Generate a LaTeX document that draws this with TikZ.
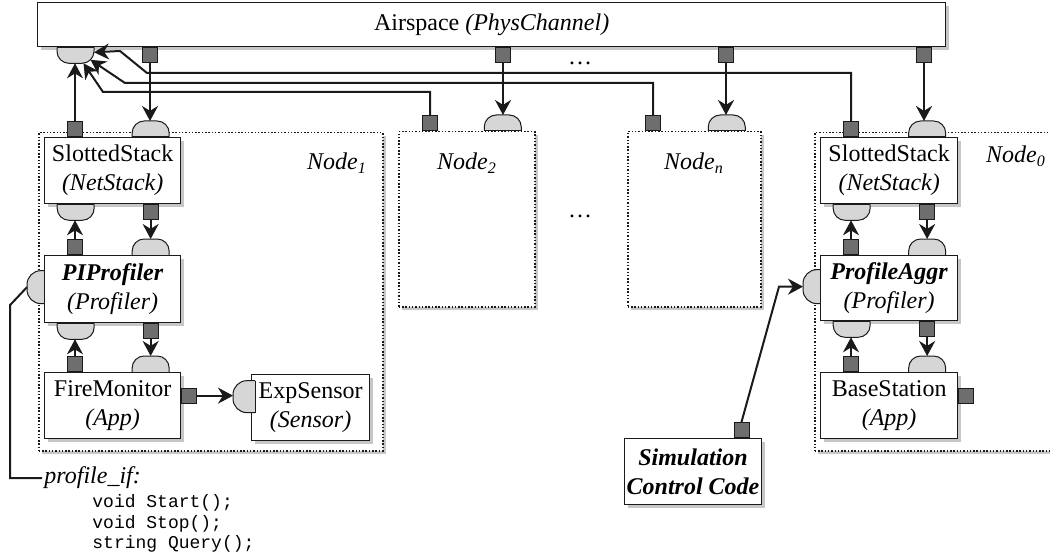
\documentclass[tikz,border=0pt]{standalone}
\usepackage{fontspec}
\setmainfont{Liberation Serif}
\setmonofont{Liberation Mono}
\usetikzlibrary{arrows.meta,positioning,shadows,calc}
\definecolor{Ink}{HTML}{1A1A1A}
\definecolor{PortIn}{HTML}{D6D6D6}
\definecolor{PortOut}{HTML}{6E6E6E}
\tikzset{
 softshadow/.style={drop shadow={shadow xshift=1.6pt,shadow yshift=-1.6pt,opacity=0.22,fill=black}},
 comp/.style={draw=Ink,fill=white,line width=0.65pt,anchor=north west,align=center,
   font=\fontsize{12}{14.5}\selectfont,inner sep=1pt,minimum width=68pt,minimum height=33pt,softshadow},
 nodebox/.style={draw=Ink,fill=white,line width=0.75pt,dash pattern=on 0.75pt off 0.9pt,
   anchor=north west,softshadow},
 lbl/.style={font=\fontsize{12}{14.5}\selectfont\itshape},
 oport/.style={draw=Ink,fill=PortOut,line width=0.5pt,minimum size=7.5pt,inner sep=0pt},
 portfill/.style={fill=PortIn,draw=Ink,line width=0.5pt,rounded corners=6pt},
 portedge/.style={draw=Ink,line width=0.5pt},
 iport/.style={minimum width=18.5pt,minimum height=8pt,inner sep=0pt,outer sep=0pt},
 domeup/.style={iport,append after command={\pgfextra{\filldraw[portfill]
   (\tikzlastnode.south west) -- (\tikzlastnode.north west) -- (\tikzlastnode.north east) -- (\tikzlastnode.south east);
   \draw[portedge] (\tikzlastnode.south west) -- (\tikzlastnode.south east);}}},
 domedown/.style={iport,append after command={\pgfextra{\filldraw[portfill]
   (\tikzlastnode.north west) -- (\tikzlastnode.south west) -- (\tikzlastnode.south east) -- (\tikzlastnode.north east);
   \draw[portedge] (\tikzlastnode.north west) -- (\tikzlastnode.north east);}}},
 domeleft/.style={minimum width=8.5pt,minimum height=16.5pt,inner sep=0pt,outer sep=0pt,
   append after command={\pgfextra{\filldraw[portfill,rounded corners=7pt]
   (\tikzlastnode.north east) -- (\tikzlastnode.north west) -- (\tikzlastnode.south west) -- (\tikzlastnode.south east);
   \draw[portedge] (\tikzlastnode.north east) -- (\tikzlastnode.south east);}}},
 wire/.style={line width=1pt,draw=Ink},
 arr/.style={wire,-{Stealth[length=7.5pt,width=8pt]}}
}
\begin{document}
\begin{tikzpicture}[x=0.5pt,y=-0.5pt]
\useasboundingbox (0,0) rectangle (1050,556);
% channel
\node[comp,minimum width=454pt,minimum height=22pt] (air) at (37,2) {Airspace \textit{(PhysChannel)}};
\node[domedown,below right=0pt and 10pt of air.south west] (asin) {};
\node[oport,below right=0pt and 52.5pt of air.south west] (aso1) {};
\node[oport,below right=0pt and 229pt of air.south west] (aso2) {};
\node[oport,below right=0pt and 340.5pt of air.south west] (aso3) {};
\node[oport,below right=0pt and 439.5pt of air.south west] (aso0) {};
\node[font=\fontsize{12}{14}\selectfont] (dots1) at (580,63) {\dots};
% sensor nodes
\node[nodebox,minimum width=172pt,minimum height=159pt] (g1) at (38,132) {};
\node[nodebox,minimum width=68pt,minimum height=87.5pt] (g2) at (398,131) {};
\node[nodebox,minimum width=66.5pt,minimum height=87.5pt] (gn) at (627,131) {};
\node[nodebox,minimum width=120pt,minimum height=159pt] (g0) at (814,132) {};
\node[lbl] (g1l) at (337,163) {Node\textsubscript{1}};
\node[lbl] (g2l) at (467,163) {Node\textsubscript{2}};
\node[lbl] (gnl) at (694,163) {Node\textsubscript{n}};
\node[lbl] (g0l) at (1016,156) {Node\textsubscript{0}};
\node[font=\fontsize{12}{14}\selectfont] (dots2) at (580,216) {\dots};
\node[oport,above right=0pt and 12pt of g2.north west] (n2o) {};
\node[domeup,above=0pt of g2.north,xshift=18pt] (n2i) {};
\node[oport,above right=0pt and 9pt of gn.north west] (nno) {};
\node[domeup,above=0pt of gn.north,xshift=16.25pt] (nni) {};
% node 1
\node[comp] (s1) at (44,137) {SlottedStack\\\textit{(NetStack)}};
\node[comp,minimum height=33.5pt] (p1) at (44,255) {\textbf{\textit{PIProfiler}}\\\textit{(Profiler)}};
\node[comp] (f1) at (44,372) {FireMonitor\\\textit{(App)}};
\node[comp,minimum width=59pt] (e1) at (251,374) {ExpSensor\\\textit{(Sensor)}};
\node[oport,above right=0pt and 11.5pt of s1.north west] (s1o) {};
\node[domeup,above=0pt of s1.north,xshift=19pt] (s1i) {};
\node[domedown,below=0pt of s1.south,xshift=-18.5pt] (s1bi) {};
\node[oport,below=0pt of s1.south,xshift=19pt] (s1bo) {};
\node[oport,above right=0pt and 11.5pt of p1.north west] (p1to) {};
\node[domeup,above=0pt of p1.north,xshift=19pt] (p1ti) {};
\node[domedown,below=0pt of p1.south,xshift=-18.5pt] (p1bi) {};
\node[oport,below=0pt of p1.south,xshift=19pt] (p1bo) {};
\node[domeleft,left=0pt of p1.west,yshift=1pt] (p1l) {};
\node[oport,above right=0pt and 11.5pt of f1.north west] (f1to) {};
\node[domeup,above=0pt of f1.north,xshift=19pt] (f1ti) {};
\node[oport,right=0pt of f1.east,yshift=5pt] (f1r) {};
\node[domeleft,minimum width=11pt,minimum height=16pt,left=0pt of e1.west,xshift=2pt,yshift=5.5pt] (e1l) {};
% node 0
\node[comp,minimum width=68.5pt] (s0) at (820,137) {SlottedStack\\\textit{(NetStack)}};
\node[comp,minimum width=68.5pt,minimum height=32.5pt] (p0) at (820,255) {\textbf{\textit{ProfileAggr}}\\\textit{(Profiler)}};
\node[comp,minimum width=68.5pt] (b0) at (820,372) {BaseStation\\\textit{(App)}};
\node[oport,above right=0pt and 11.5pt of s0.north west] (s0o) {};
\node[domeup,above=0pt of s0.north,xshift=19pt] (s0i) {};
\node[domedown,below=0pt of s0.south,xshift=-18.75pt] (s0bi) {};
\node[oport,below=0pt of s0.south,xshift=19pt] (s0bo) {};
\node[oport,above right=0pt and 11.5pt of p0.north west] (p0to) {};
\node[domeup,above=0pt of p0.north,xshift=19pt] (p0ti) {};
\node[domedown,below=0pt of p0.south,xshift=-18.75pt] (p0bi) {};
\node[oport,below=0pt of p0.south,xshift=19pt] (p0bo) {};
\node[domeleft,minimum height=17pt,left=0pt of p0.west,yshift=0.75pt] (p0l) {};
\node[oport,above right=0pt and 11.5pt of b0.north west] (b0to) {};
\node[domeup,above=0pt of b0.north,xshift=19pt] (b0ti) {};
\node[oport,right=0pt of b0.east,yshift=5pt] (b0r) {};
% control code and interface
\node[comp,minimum width=67.5pt,font=\fontsize{12}{14.5}\selectfont\bfseries\itshape] (sim) at (624,438) {Simulation\\Control Code};
\node[oport,above=0pt of sim.north,xshift=24.25pt] (simo) {};
\node[lbl,anchor=west,inner sep=1pt] (pif) at (42,478) {profile\_if:};
\node[anchor=north west,inner sep=0pt,align=left,font=\ttfamily\fontsize{9}{10.3}\selectfont] (code) at (92,494) {void Start();\\void Stop();\\string Query();};
% channel down to stacks
\draw[arr] (aso1.south) -- (aso1.south |- s1i.north);
\draw[arr] (aso2.south) -- (aso2.south |- n2i.north);
\draw[arr] (aso3.south) -- (aso3.south |- nni.north);
\draw[arr] (aso0.south) -- (aso0.south |- s0i.north);
% stacks back up to channel
\draw[arr] (s1o.north) -- (s1o.north |- asin.south);
\draw[arr] (n2o.north) |- (103,92) -- ($(asin.south)+(8,0)$);
\draw[arr] (nno.north) |- (125,83) -- ($(asin.south east)+(-3.5,-3.5)$);
\draw[arr] (s0o.north) |- (147,73) -- (120,51) -- ($(asin.north east)+(0,5)$);
% inside node 1
\draw[arr] (s1bo.south) -- (s1bo.south |- p1ti.north);
\draw[arr] (p1to.north) -- (p1to.north |- s1bi.south);
\draw[arr] (p1bo.south) -- (p1bo.south |- f1ti.north);
\draw[arr] (f1to.north) -- (f1to.north |- p1bi.south);
\draw[arr] (f1r.east) -- (f1r.east -| e1l.west);
% inside node 0
\draw[arr] (s0bo.south) -- (s0bo.south |- p0ti.north);
\draw[arr] (p0to.north) -- (p0to.north |- s0bi.south);
\draw[arr] (p0bo.south) -- (p0bo.south |- b0ti.north);
\draw[arr] (b0to.north) -- (b0to.north |- p0bi.south);
% profiler control
\draw[arr] (simo.north) -- ($(p0l.west)+(-24,0)$) -- (p0l.west);
\draw[wire] (p1l.west) -- ++(-17,18) |- (pif.west);
\end{tikzpicture}
\end{document}
